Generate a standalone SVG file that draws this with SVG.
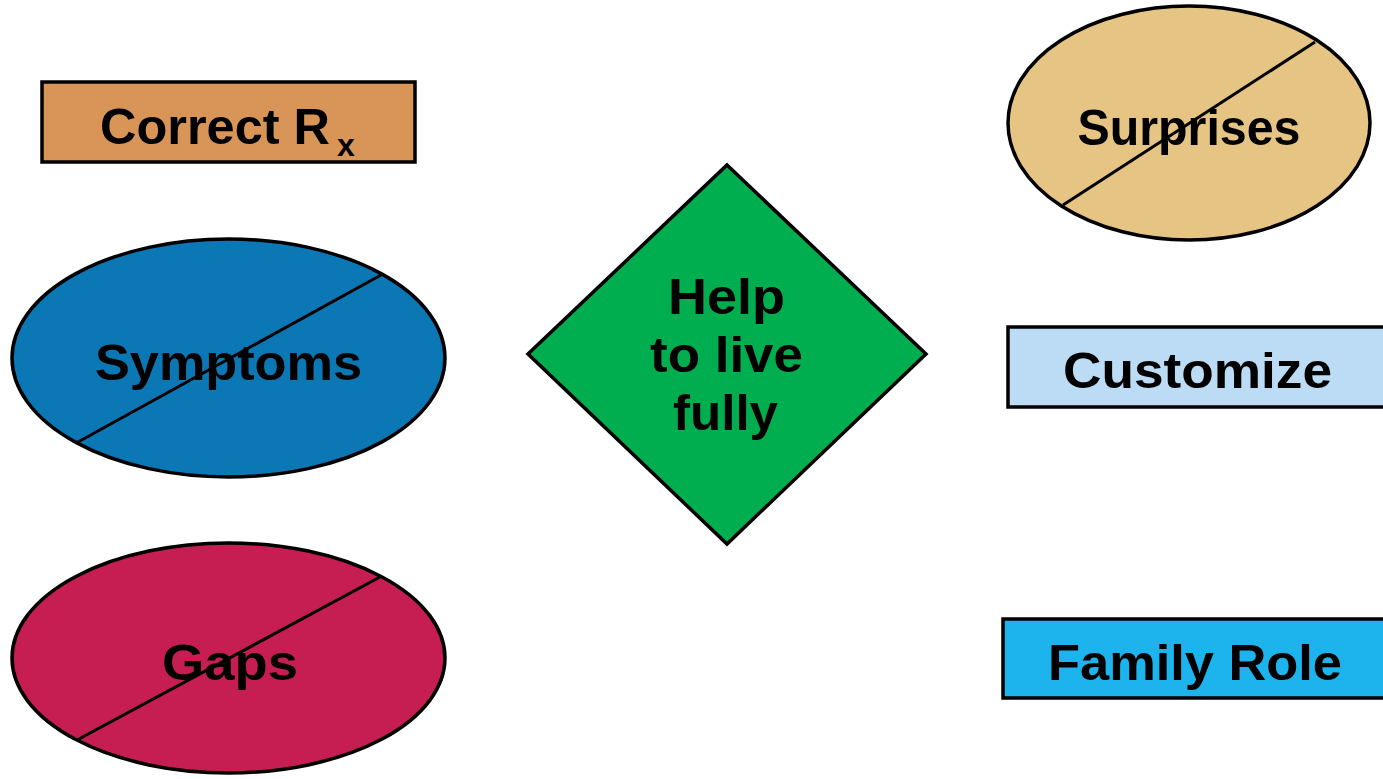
<svg xmlns="http://www.w3.org/2000/svg" width="1383" height="779" viewBox="0 0 1383 779">
<style>
.s{stroke:#000;stroke-width:3.5}
.t{font-family:"Liberation Sans",Arial,sans-serif;font-weight:bold;font-size:50px;fill:#000;text-anchor:middle}
.l{stroke:#000;stroke-width:3;fill:none}
</style>
<rect width="1383" height="779" fill="#fff"/>
<g id="correct-rx">
<rect class="s" x="42" y="82" width="373" height="80" fill="#D99557"/>
<text class="t" x="215" y="144" textLength="230" lengthAdjust="spacingAndGlyphs">Correct R</text>
<text class="t" x="346" y="156" style="font-size:32px">x</text>
</g>
<g id="surprises">
<ellipse class="s" cx="1189" cy="123" rx="181" ry="117" fill="#E6C584"/>
<text class="t" x="1189" y="145" textLength="223" lengthAdjust="spacingAndGlyphs">Surprises</text>
<line class="l" x1="1063" y1="205" x2="1315" y2="42"/>
</g>
<g id="symptoms">
<ellipse class="s" cx="228.5" cy="358" rx="216.5" ry="119" fill="#0B77B5"/>
<text class="t" x="228.5" y="380" textLength="267" lengthAdjust="spacingAndGlyphs">Symptoms</text>
<line class="l" x1="78" y1="442" x2="381" y2="275"/>
</g>
<g id="gaps">
<ellipse class="s" cx="228.5" cy="658" rx="216.5" ry="115" fill="#C61E52"/>
<text class="t" x="230" y="680" textLength="136" lengthAdjust="spacingAndGlyphs">Gaps</text>
<line class="l" x1="77" y1="740" x2="380" y2="577"/>
</g>
<g id="help">
<polygon class="s" points="727,165 926,354 727,544 528,354" fill="#00AD4F"/>
<text class="t" x="726.5" y="314" textLength="117" lengthAdjust="spacingAndGlyphs">Help</text>
<text class="t" x="726.5" y="372" textLength="153" lengthAdjust="spacingAndGlyphs">to live</text>
<text class="t" x="725.5" y="430" textLength="105" lengthAdjust="spacingAndGlyphs">fully</text>
</g>
<g id="customize">
<rect class="s" x="1008" y="327" width="380" height="80" fill="#BBDCF4"/>
<text class="t" x="1197.5" y="388" textLength="269" lengthAdjust="spacingAndGlyphs">Customize</text>
</g>
<g id="family-role">
<rect class="s" x="1003" y="619" width="385" height="79" fill="#1DB3EC"/>
<text class="t" x="1195" y="680" textLength="294" lengthAdjust="spacingAndGlyphs">Family Role</text>
</g>
<g id="connectors"></g>
</svg>
